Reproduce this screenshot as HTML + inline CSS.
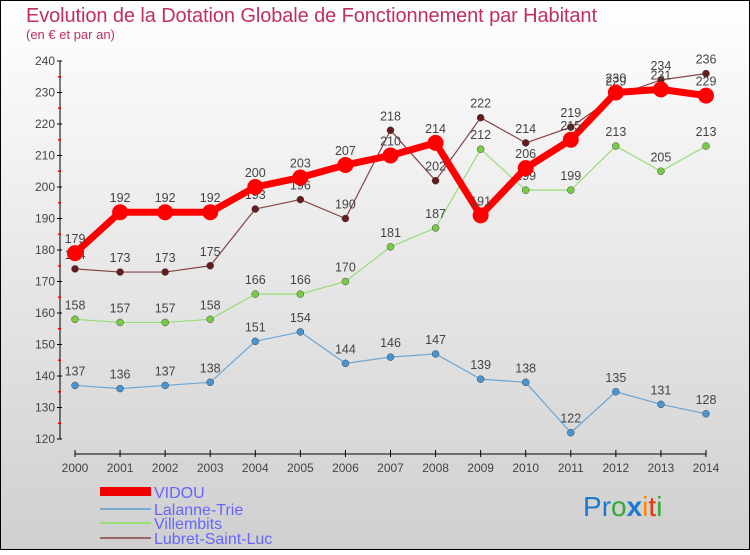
<!DOCTYPE html>
<html><head><meta charset="utf-8"><style>
body{margin:0;}
#c{width:750px;height:550px;position:relative;font-family:"Liberation Sans",sans-serif;}
</style></head><body>
<div id="c">
<svg id="s" width="750" height="550" xmlns="http://www.w3.org/2000/svg">
<defs><linearGradient id="bg" x1="0" y1="0" x2="0" y2="1"><stop offset="0" stop-color="#ffffff"/><stop offset="1" stop-color="#cfcfcf"/></linearGradient></defs>
<rect x="0.5" y="0.5" width="749" height="549" fill="url(#bg)" stroke="#000"/>
<text x="26" y="22" font-size="20" fill="#c0305a" textLength="571">Evolution de la Dotation Globale de Fonctionnement par Habitant</text>
<text x="26" y="39" font-size="13" fill="#c0305a">(en € et par an)</text>
<g id="axes"></g><g id="series"></g>
<g>
<rect x="100" y="487" width="51" height="9" fill="#ee0000"/>
<text x="154" y="498" font-size="16" fill="#6666ff">VIDOU</text>
<line x1="100" y1="509" x2="151" y2="509" stroke="#7aaed0" stroke-width="2"/>
<text x="154" y="515" font-size="16" fill="#6666ff">Lalanne-Trie</text>
<line x1="100" y1="523" x2="151" y2="523" stroke="#99dd77" stroke-width="2"/>
<text x="154" y="529" font-size="16" fill="#6666ff">Villembits</text>
<line x1="100" y1="538" x2="151" y2="538" stroke="#996666" stroke-width="2"/>
<text x="154" y="544" font-size="16" fill="#6666ff">Lubret-Saint-Luc</text>
</g>
<g font-size="28">
<text x="583" y="516"><tspan fill="#1a7ad0">P</tspan><tspan fill="#1a7ad0">r</tspan><tspan fill="#33aa33">o</tspan><tspan fill="#1a7ad0" font-weight="bold">x</tspan><tspan fill="#ff8800">i</tspan><tspan fill="#ee3311">t</tspan><tspan fill="#33aa33">i</tspan></text>
</g>
</svg>
</div>
<script>
const years=[2000,2001,2002,2003,2004,2005,2006,2007,2008,2009,2010,2011,2012,2013,2014];
const vidou=[179,192,192,192,200,203,207,210,214,191,206,215,230,231,229];
const lalanne=[137,136,137,138,151,154,144,146,147,139,138,122,135,131,128];
const villembits=[158,157,157,158,166,166,170,181,187,212,199,199,213,205,213];
const lubret=[174,173,173,175,193,196,190,218,202,222,214,219,229,234,236];
const yTicks=[120,130,140,150,160,170,180,190,200,210,220,230,240];
const NS="http://www.w3.org/2000/svg";
const X0=75,X1=706,Y0=439,Y1=61,VMIN=120,VMAX=240;
function xs(i){return X0+(X1-X0)*i/(years.length-1);}
function ys(v){return Y0-(v-VMIN)/(VMAX-VMIN)*(Y0-Y1);}
function mk(tag,attrs,parent){const e=document.createElementNS(NS,tag);for(const k in attrs)e.setAttribute(k,attrs[k]);parent.appendChild(e);return e;}
const ax=document.getElementById('axes');
let l=mk('line',{x1:60,y1:Y1,x2:60,y2:Y0,stroke:'#000'},ax);


l=mk('line',{x1:75,y1:454,x2:706,y2:454,stroke:'#000'},ax);


yTicks.forEach((v,i)=>{
 const y=ys(v);
 mk('line',{x1:57,y1:y,x2:62,y2:y,stroke:'#000'},ax);
 const t=mk('text',{x:55,y:y+4,'font-size':12,'text-anchor':'end',fill:'#444'},ax);t.textContent=v;
 
 
 if(i<yTicks.length-1){mk('line',{x1:58,y1:ys(v+5),x2:61,y2:ys(v+5),stroke:'#ff0000','stroke-width':1.5},ax);}
});
years.forEach((yr,i)=>{
 const x=xs(i);
 mk('line',{x1:x,y1:450,x2:x,y2:457,stroke:'#000'},ax);
 const t=mk('text',{x:x,y:472,'font-size':12,'text-anchor':'middle',fill:'#444'},ax);t.textContent=yr;
 
 
});
const sg=document.getElementById('series');
function series(data,color,dot,w,r,name){
 const g=mk('g',{},sg);
 
 
 const p=mk('polyline',{points:data.map((v,i)=>xs(i)+','+ys(v)).join(' '),fill:'none',stroke:color,'stroke-width':w,'stroke-linejoin':'round'},g);
 
 
 data.forEach((v,i)=>{
  const c=mk('circle',{cx:xs(i),cy:ys(v),r:r,fill:dot,stroke:w>3?'none':'#444','stroke-width':0.5},g);
  
  
  const t=mk('text',{x:xs(i),y:ys(v)-10,'font-size':12.5,'text-anchor':'middle',fill:'#444'},g);t.textContent=v;
  
  
 });
}
series(lalanne,'#6aa6d6','#4a94d0',1.2,3.5,'lalanne-trie');
series(villembits,'#99dd77','#77cc44',1.2,3.5,'villembits');
series(lubret,'#884444','#661a1a',1.2,3.5,'lubret-saint-luc');
series(vidou,'#ff0000','#ff0000',7,8,'vidou');
</script>
</body></html>
